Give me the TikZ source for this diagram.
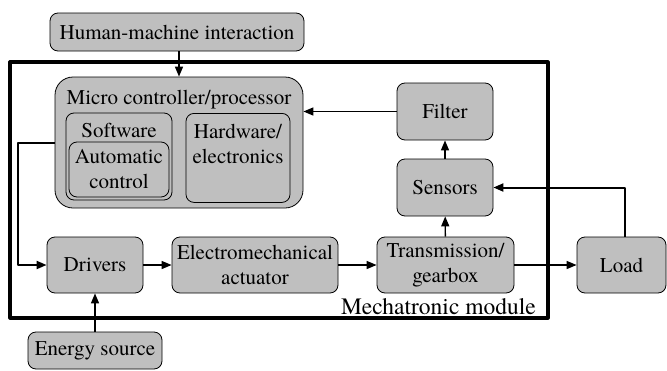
\documentclass[tikz,border=0pt]{standalone}
\usepackage{fontspec}
\setmainfont{texgyretermes-regular.otf}
\usetikzlibrary{arrows.meta}
\begin{document}
\begin{tikzpicture}[x=1pt,y=-1pt, font=\fontsize{21}{25}\selectfont, line join=round,
	blk/.style={draw, fill=gray!50, rounded corners=8pt, line width=0.8pt, inner sep=0pt, align=center},
	txt/.style={align=center, inner sep=0pt},
	arr/.style={line width=1.4pt, -{Triangle[length=10pt,width=8pt]}}]
	\useasboundingbox (0,0) rectangle (667,370);
	% frame of the module
	\node[draw, line width=3.2pt, minimum width=538, minimum height=256, inner sep=0pt] (module) at (279,190) {};
	\node[anchor=base east, inner sep=0pt, font=\fontsize{23.5}{28}\selectfont] (modt) at (536,314) {Mechatronic module};
	% controller
	\node[blk, rounded corners=18pt, minimum width=248, minimum height=131] (mcu) at (179,142.5) {};
	\node[txt] (mcut) at (179,100) {Micro controller/processor};
	\node[blk, minimum width=106, minimum height=87] (sw) at (119,156.5) {};
	\node[blk, minimum width=100, minimum height=55] (ac) at (119,169.5) {Automatic\\control};
	\node[txt] (swt) at (119,130) {Software};
	\node[blk, minimum width=104, minimum height=89, anchor=north] (hw) at (238,113) {};
	\node[txt] (hwt) at (238,144) {Hardware/\\electronics};
	% boxes
	\node[blk, minimum width=254, minimum height=38] (hmi) at (177,32) {Human-machine interaction};
	\node[blk, minimum width=96, minimum height=57] (flt) at (445,111.5) {Filter};
	\node[blk, minimum width=96, minimum height=57] (sens) at (445,187.5) {Sensors};
	\node[blk, minimum width=96, minimum height=56] (drv) at (95,265) {Drivers};
	\node[blk, minimum width=166, minimum height=56] (act) at (255,265) {Electromechanical\\actuator};
	\node[blk, minimum width=137, minimum height=56] (trans) at (445.5,265) {Transmission/\\gearbox};
	\node[blk, minimum width=89, minimum height=56] (load) at (621.5,265) {Load};
	\node[blk, minimum width=134, minimum height=37] (src) at (95,350.5) {Energy source};
	% connectors
	\draw[arr] (hmi.south -| mcu.north) -- (mcu.north);
	\draw[arr, line width=2pt] (mcu.west) -- ++(-37,0) |- (drv.west);
	\draw[arr] (drv) -- (act);
	\draw[arr] (act) -- (trans);
	\draw[arr] (trans) -- (load);
	\draw[arr] (src) -- (drv);
	\draw[arr] (trans) -- (sens);
	\draw[arr] (sens) -- (flt);
	\draw[arr] (flt.west) -- (flt.west -| mcu.east);
	\draw[arr, line width=2pt] ([xshift=3pt]load.north) |- (sens.east);
\end{tikzpicture}
\end{document}
